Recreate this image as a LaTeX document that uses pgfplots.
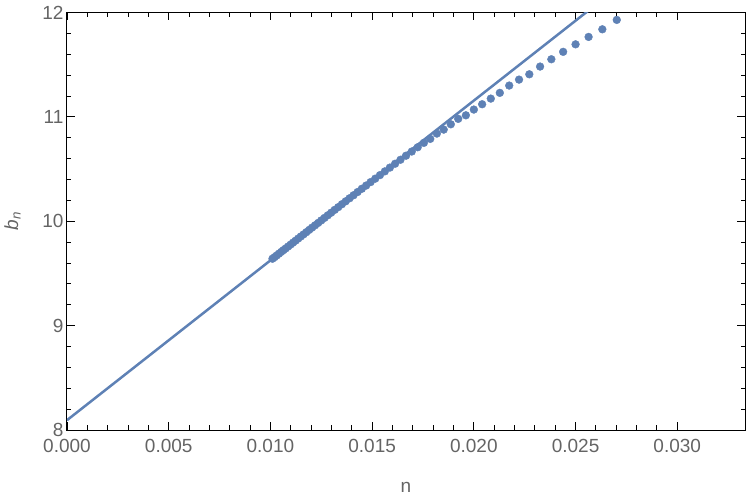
\documentclass[border=0pt]{standalone}
\usepackage{pgfplots}
\pgfplotsset{compat=1.18}
\usepackage{fontspec}
\setmainfont{Liberation Sans}

\definecolor{mmablue}{rgb}{0.368,0.507,0.710}
\definecolor{labelgray}{RGB}{100,100,100}

\begin{document}
\begin{tikzpicture}
\begin{axis}[
    name=ax,
    scale only axis,
    width=678pt, height=417.5pt,
    xmin=0, xmax=0.03333,
    ymin=8, ymax=12,
    xtick={0,0.005,0.010,0.015,0.020,0.025,0.030},
    ytick={8,9,10,11,12},
    minor x tick num=4,
    minor y tick num=4,
    tick align=inside,
    major tick length=8pt,
    minor tick length=4.5pt,
    every tick/.style={black, line width=0.9pt},
    axis line style={black, line width=1pt},
    scaled x ticks=false,
    tick label style={labelgray, font=\fontsize{19}{22}\selectfont},
    label style={labelgray, font=\fontsize{19}{22}\selectfont},
    /pgf/number format/assume math mode=true,
    x tick label style={yshift=-6pt},
    xticklabel style={/pgf/number format/.cd, fixed, fixed zerofill, precision=3},
    xlabel={n},
    ylabel={\itshape b\textsubscript{n}},
    xlabel style={at={(axis description cs:0.5,-0.1377)}, anchor=center},
    ylabel style={at={(axis description cs:-0.0804,0.5)}, anchor=center},
    clip marker paths=true,
]

% fitted straight line
\addplot[mmablue, line width=2.5pt, no marks] coordinates {
    (0,8.094) (0.0336,13.238)
};

% b_n against n
\addplot[only marks, mark=*, mark size=3.9pt, mmablue, mark options={draw=none, fill=mmablue}]
    coordinates {
    (0.027778,12.005)
    (0.027027,11.929) (0.026316,11.839) (0.025641,11.766) (0.025000,11.695)
    (0.024390,11.623) (0.023810,11.552) (0.023256,11.482) (0.022727,11.408)
    (0.022222,11.357) (0.021739,11.300) (0.021277,11.230) (0.020833,11.175)
    (0.020408,11.121) (0.020000,11.070) (0.019608,11.015) (0.019231,10.981)
    (0.018868,10.929) (0.018519,10.878) (0.018182,10.840) (0.017857,10.789)
    (0.017544,10.751) (0.017241,10.709) (0.016949,10.668) (0.016667,10.628)
    (0.016393,10.589) (0.016129,10.551) (0.015873,10.514) (0.015625,10.478)
    (0.015385,10.442) (0.015152,10.408) (0.014925,10.375) (0.014706,10.342)
    (0.014493,10.311) (0.014286,10.280) (0.014085,10.249) (0.013889,10.220)
    (0.013699,10.191) (0.013514,10.163) (0.013333,10.135) (0.013158,10.109)
    (0.012987,10.082) (0.012821,10.057) (0.012658,10.032) (0.012500,10.008)
    (0.012346,9.984) (0.012195,9.961) (0.012048,9.939) (0.011905,9.917)
    (0.011765,9.895) (0.011628,9.874) (0.011494,9.854) (0.011364,9.834)
    (0.011236,9.814) (0.011111,9.795) (0.010989,9.776) (0.010870,9.758)
    (0.010753,9.740) (0.010638,9.723) (0.010526,9.706) (0.010417,9.689)
    (0.010309,9.672) (0.010204,9.656) (0.010101,9.641)
};
\end{axis}
\pgfresetboundingbox
\path ([shift={(-67pt,-70.5pt)}]ax.south west) rectangle ([shift={(2pt,12.5pt)}]ax.north east);
\end{tikzpicture}
\end{document}
